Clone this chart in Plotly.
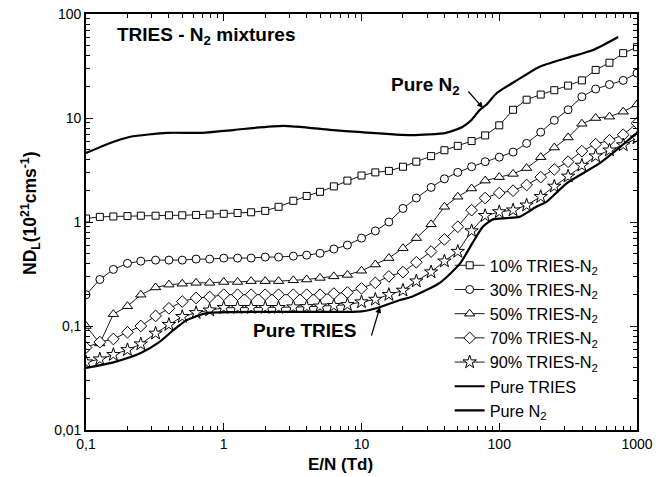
import plotly.graph_objects as go

# ---- data ----
E_grid = [0.1, 0.126, 0.158, 0.2, 0.25, 0.32, 0.4, 0.5, 0.63, 0.79,
          1, 1.26, 1.58, 2, 2.5, 3.2, 4, 5, 6.3, 7.9,
          10, 12.6, 15.8, 20, 25, 32, 40, 50, 63, 79,
          100, 126, 158, 200, 251, 316, 398, 501, 631, 794, 1000]

nd_10 = [1.08, 1.12, 1.13, 1.14, 1.15, 1.15, 1.16, 1.16, 1.17, 1.18,
         1.20, 1.22, 1.24, 1.28, 1.40, 1.60, 1.78, 1.95, 2.2, 2.5,
         2.8, 3.0, 3.1, 3.4, 3.8, 4.3, 4.9, 5.4, 6.0, 6.8,
         8.5, 12.0, 15.0, 16.8, 18.5, 20.5, 23.0, 29.0, 34.0, 42.0, 48.0]

nd_30 = [0.20, 0.28, 0.35, 0.40, 0.42, 0.43, 0.43, 0.43, 0.44, 0.44,
         0.45, 0.45, 0.45, 0.46, 0.46, 0.47, 0.48, 0.50, 0.55, 0.60,
         0.70, 0.82, 1.0, 1.35, 1.7, 2.15, 2.6, 3.0, 3.4, 3.8,
         4.2, 4.7, 5.7, 7.3, 9.5, 12.0, 16.0, 19.0, 21.0, 23.0, 27.0]

nd_50 = [0.10, 0.068, 0.13, 0.155, 0.20, 0.235, 0.25, 0.255, 0.26, 0.26,
         0.265, 0.265, 0.27, 0.27, 0.27, 0.275, 0.28, 0.29, 0.30, 0.31,
         0.34, 0.39, 0.45, 0.56, 0.70, 0.95, 1.4, 1.75, 2.1, 2.5,
         2.7, 2.9, 3.3, 4.2, 5.2, 6.5, 8.8, 10.0, 10.3, 11.5, 13.5]

nd_70 = [0.062, 0.070, 0.075, 0.087, 0.10, 0.125, 0.148, 0.172, 0.186, 0.19,
         0.20, 0.20, 0.20, 0.20, 0.20, 0.20, 0.20, 0.20, 0.205, 0.21,
         0.23, 0.26, 0.30, 0.33, 0.41, 0.52, 0.68, 0.90, 1.3, 1.7,
         1.9, 2.0, 2.27, 2.7, 3.2, 3.8, 4.8, 5.6, 6.1, 6.9, 8.9]

nd_90 = [0.045, 0.048, 0.053, 0.059, 0.067, 0.085, 0.103, 0.123, 0.134, 0.142,
         0.150, 0.150, 0.150, 0.150, 0.150, 0.152, 0.153, 0.155, 0.157, 0.160,
         0.170, 0.180, 0.20, 0.22, 0.27, 0.33, 0.42, 0.52, 0.82, 1.15,
         1.25, 1.30, 1.45, 1.75, 2.2, 2.75, 3.5, 4.3, 4.9, 5.5, 6.4]

E_tries = [0.1, 0.16, 0.25, 0.34, 0.43, 0.54, 0.75, 1.2, 3, 10, 13, 19, 23,
           37, 52, 64, 76, 90, 113, 140, 186, 220, 310, 540, 1000]
nd_tries = [0.0395, 0.045, 0.055, 0.07, 0.091, 0.114, 0.133, 0.136, 0.137, 0.138,
            0.149, 0.178, 0.19, 0.26, 0.40, 0.63, 0.90, 1.06, 1.09, 1.12,
            1.40, 1.56, 2.37, 3.7, 7.2]

E_n2 = [0.1, 0.15, 0.21, 0.39, 0.7, 1.2, 2.7, 5.9, 10, 23, 41, 54, 62,
        72, 81, 96, 134, 195, 310, 480, 730]
nd_n2 = [4.6, 5.75, 6.6, 7.2, 7.2, 7.7, 8.4, 7.7, 7.3, 6.85, 7.2, 8.2, 9.4,
         11.9, 13.5, 17.4, 23.0, 31.0, 37.8, 45.0, 60.0]

x_tickvals = [0.1, 1, 10, 100, 1000]
x_ticktext = ["0,1", "1", "10", "100", "1000"]
y_tickvals = [0.01, 0.1, 1, 10, 100]
y_ticktext = ["0,01", "0,1", "1", "10", "100"]

series = [
    ("10% TRIES-N<sub>2</sub>", nd_10, "square", 7),
    ("30% TRIES-N<sub>2</sub>", nd_30, "circle", 8),
    ("50% TRIES-N<sub>2</sub>", nd_50, "triangle-up", 9),
    ("70% TRIES-N<sub>2</sub>", nd_70, "diamond", 9),
    ("90% TRIES-N<sub>2</sub>", nd_90, "star", 10),
]

FONT = "Arial, Liberation Sans, sans-serif"

fig = go.Figure()
for i, (name, vals, sym, size) in enumerate(series):
    fig.add_trace(go.Scatter(
        x=E_grid, y=vals, name=name, mode="lines+markers",
        line=dict(color="black", width=0.9),
        marker=dict(symbol=sym, size=size, color="white",
                    line=dict(color="black", width=1)),
    ))

fig.add_trace(go.Scatter(x=E_tries, y=nd_tries, name="Pure TRIES", mode="lines",
                         line=dict(color="black", width=2.2, shape="spline", smoothing=0.6)))
fig.add_trace(go.Scatter(x=E_n2, y=nd_n2, name="Pure N<sub>2</sub>", mode="lines",
                         line=dict(color="black", width=2.2, shape="spline", smoothing=0.6)))

def minor_vals(lo, hi):
    out = []
    d = lo
    while d < hi:
        for k in range(2, 10):
            out.append(k * d)
        d *= 10
    return out

axis_common = dict(
    type="log", showgrid=False, zeroline=False,
    showline=True, linecolor="black", linewidth=1.6, mirror="ticks",
    ticks="inside", ticklen=7, tickwidth=1.4, tickcolor="black",
    tickfont=dict(family=FONT, size=14, color="black"),
)

fig.update_xaxes(range=[-1, 3], tickmode="array", tickvals=x_tickvals, ticktext=x_ticktext,
                 minor=dict(tickmode="array", tickvals=minor_vals(0.1, 1000), ticks="inside",
                            ticklen=4, tickwidth=1.1, tickcolor="black", showgrid=False),
                 **axis_common)
fig.update_yaxes(range=[-2, 2], tickmode="array", tickvals=y_tickvals, ticktext=y_ticktext,
                 minor=dict(tickmode="array", tickvals=minor_vals(0.01, 100), ticks="inside",
                            ticklen=4, tickwidth=1.1, tickcolor="black", showgrid=False),
                 **axis_common)

bold = dict(family=FONT, size=19, color="black")
fig.update_layout(
    width=659, height=477,
    margin=dict(l=86, r=22, t=14, b=47, autoexpand=False),
    paper_bgcolor="white", plot_bgcolor="white",
    font=dict(family=FONT, color="black"),
    legend=dict(x=0.66, y=0.437, xanchor="left", yanchor="top",
                bgcolor="rgba(0,0,0,0)", borderwidth=0,
                font=dict(family=FONT, size=16.3, color="black"),
                tracegroupgap=0),
    annotations=[
        dict(text="<b>TRIES - N<sub>2</sub> mixtures</b>", x=(115 - 86) / 551, y=(430 - 36) / 416,
             xref="paper", yref="paper",
             xanchor="left", yanchor="middle", showarrow=False, font=bold),
        dict(text="<b>Pure N<sub>2</sub></b>", x=(425 - 86) / 551, y=(430 - 86) / 416,
             xref="paper", yref="paper",
             xanchor="center", yanchor="middle", showarrow=False, font=bold),
        dict(text="<b>Pure TRIES</b>", x=(304 - 86) / 551, y=(430 - 330) / 416,
             xref="paper", yref="paper",
             xanchor="center", yanchor="middle", showarrow=False, font=bold),
        dict(text="", x=(483 - 86) / 551, y=(430 - 108) / 416, xref="paper", yref="paper",
             ax=-16, ay=-18, showarrow=True, arrowhead=2, arrowsize=1, arrowwidth=1.2,
             arrowcolor="black"),
        dict(text="", x=(380 - 86) / 551, y=(430 - 307) / 416, xref="paper", yref="paper",
             ax=-9, ay=30, showarrow=True, arrowhead=2, arrowsize=1, arrowwidth=1.2,
             arrowcolor="black"),
        dict(text="<b>E/N (Td)</b>", x=(340 - 86) / 551, y=(430 - 464) / 416,
             xref="paper", yref="paper",
             xanchor="center", yanchor="middle", showarrow=False,
             font=dict(family=FONT, size=17, color="black")),
        dict(text="<b>ND<sub>L</sub>(10<sup>21</sup>cms<sup>-1</sup>)</b>",
             x=(31 - 86) / 551, y=(430 - 214) / 416,
             xref="paper", yref="paper", xanchor="center", yanchor="middle", textangle=-90,
             showarrow=False, font=dict(family=FONT, size=17.5, color="black")),
    ],
)

# remove the default 8px page margin so the figure sits at the window's top-left corner
fig.write_html("out.html", config={"displayModeBar": False},
               post_script="document.body.style.margin='0px';document.body.style.padding='0px';")
